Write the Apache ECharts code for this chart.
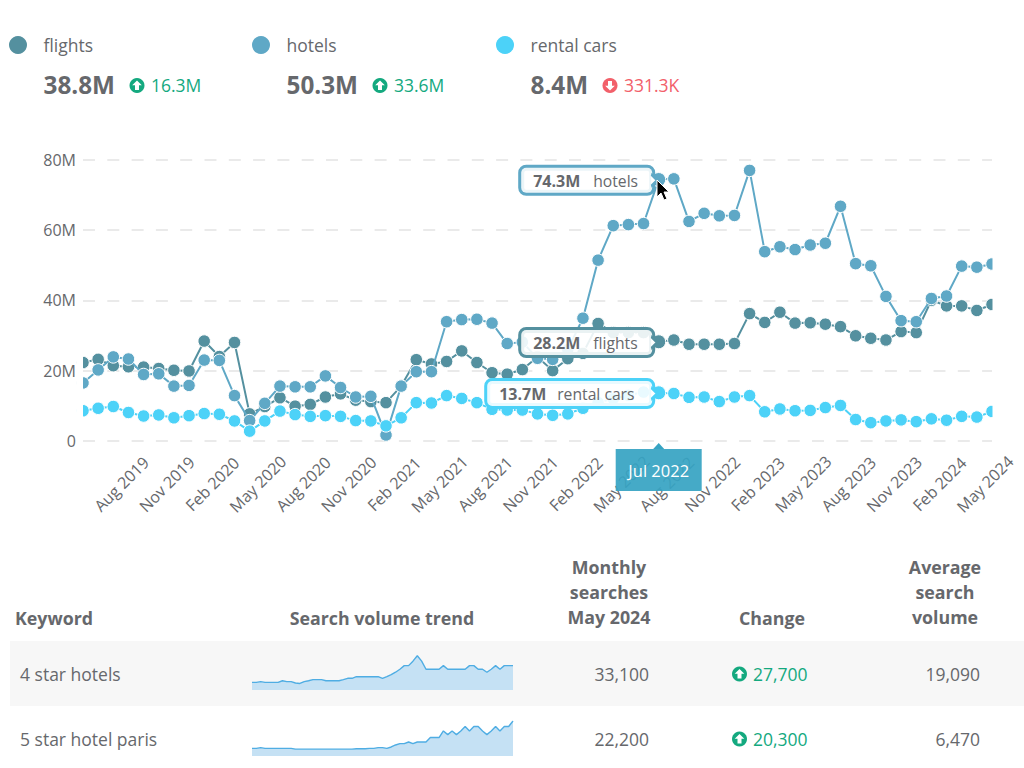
<!DOCTYPE html>
<html>
<head>
<meta charset="utf-8">
<style>html,body{margin:0;padding:0;background:#fff}#c{width:1024px;height:768px}</style>
<script src="https://cdn.jsdelivr.net/npm/echarts@6/dist/echarts.min.js"></script>
</head>
<body>
<div id="c"></div>
<script>
const months = ['May 2019','Jun 2019','Jul 2019','Aug 2019','Sep 2019','Oct 2019','Nov 2019','Dec 2019','Jan 2020','Feb 2020','Mar 2020','Apr 2020','May 2020','Jun 2020','Jul 2020','Aug 2020','Sep 2020','Oct 2020','Nov 2020','Dec 2020','Jan 2021','Feb 2021','Mar 2021','Apr 2021','May 2021','Jun 2021','Jul 2021','Aug 2021','Sep 2021','Oct 2021','Nov 2021','Dec 2021','Jan 2022','Feb 2022','Mar 2022','Apr 2022','May 2022','Jun 2022','Jul 2022','Aug 2022','Sep 2022','Oct 2022','Nov 2022','Dec 2022','Jan 2023','Feb 2023','Mar 2023','Apr 2023','May 2023','Jun 2023','Jul 2023','Aug 2023','Sep 2023','Oct 2023','Nov 2023','Dec 2023','Jan 2024','Feb 2024','Mar 2024','Apr 2024','May 2024'];
const flights = [22.3,23.2,21.4,21.1,21.0,20.6,20.1,19.9,28.4,24.0,28.0,7.7,9.8,12.3,9.9,10.4,12.5,13.4,11.6,11.2,10.9,15.6,23.1,21.9,22.6,25.6,22.3,19.4,19.0,20.3,23.9,20.0,23.4,24.9,33.4,30.8,30.8,30.8,28.2,28.7,27.5,27.5,27.5,27.7,36.2,33.7,36.6,33.5,33.6,33.2,32.5,29.9,29.2,28.7,31.1,30.8,40.0,38.4,38.4,37.1,38.8];
const hotels = [16.5,20.2,23.9,23.3,18.9,19.1,15.6,15.8,23.0,22.9,12.9,5.8,10.7,15.6,15.4,15.4,18.5,15.2,12.5,12.7,1.7,15.6,19.7,19.7,33.9,34.5,34.6,33.5,27.7,28.1,23.5,23.2,26.0,34.9,51.4,61.2,61.5,61.8,74.3,74.5,62.4,64.7,64.0,64.1,76.9,53.8,55.2,54.4,55.7,56.2,66.7,50.4,49.8,41.1,34.2,33.9,40.5,41.2,49.7,49.4,50.3];
const rentalCars = [8.6,9.3,9.8,8.1,7.1,7.4,6.6,7.2,7.8,7.6,5.7,2.8,5.7,8.5,7.5,7.0,7.2,7.0,5.8,5.7,4.3,6.6,10.9,10.8,12.9,12.1,10.9,9.0,8.8,8.8,7.7,7.3,7.7,9.3,10.9,12.0,13.0,13.9,13.7,13.5,12.4,12.5,11.2,12.5,12.9,8.3,9.1,8.6,8.7,9.5,10.1,6.1,5.2,5.7,6.0,5.5,6.3,5.9,7.0,6.8,8.4];
const trend4StarHotels = [5400,5400,6600,5400,5400,5400,5400,8100,6600,6600,4400,3600,6600,8100,9900,9900,9900,8100,8100,8100,8100,9900,12100,12100,14800,14800,14800,14800,14800,14800,12100,14800,18100,22200,27100,33100,33100,40500,49500,40500,27100,27100,27100,27100,33100,27100,27100,27100,27100,27100,33100,33100,27100,27100,22200,27100,33100,27100,33100,33100,33100];
const trend5StarParis = [1900,1900,2400,1900,1900,1900,1900,1900,1900,1900,1300,1300,1300,1300,1300,1300,1300,1300,1300,1300,1300,1300,1300,1300,1600,1600,1600,1900,1900,2400,2400,1900,2900,4400,5400,5400,6600,5400,6600,6600,6600,9900,9900,9900,14800,12100,14800,12100,14800,18100,14800,18100,18100,14800,12100,14800,18100,14800,18100,18100,22200];
const seriesNames = ['flights','hotels','rental cars'];
const seriesColors = ['#54909f','#5fa8c6','#4cd2f8'];
const summaryValues = ['38.8M','50.3M','8.4M'];
const summaryChanges = ['16.3M','33.6M','331.3K'];
const summaryUp = [true,true,false];
const calloutMonth = 'Jul 2022';
const calloutIndex = months.indexOf(calloutMonth);
const tableHeaders = ['Keyword','Search volume trend','Monthly\nsearches\nMay 2024','Change','Average\nsearch\nvolume'];
const keywords = ['4 star hotels','5 star hotel paris'];
const monthly = ['33,100','22,200'];
const changes = ['27,700','20,300'];
const averages = ['19,090','6,470'];

const FONT = '"Open Sans"';
const GREY = '#66686c', GREEN = '#14a97f', RED = '#f2606a';
const txt = (text,x,y,size,fill,opt={}) => ({type:'text',z:20,silent:true,style:{text,x,y,fill,
  font:(opt.bold?'700 ':'400 ')+size+'px '+FONT,textAlign:opt.align||'left',textVerticalAlign:'middle'}});
const icon = (cx,cy,color,up) => {
  const s = up?1:-1;
  return [
    {type:'circle',z:20,silent:true,shape:{cx,cy,r:7.5},style:{fill:color}},
    {type:'polygon',z:21,silent:true,shape:{points:[[cx,cy-5*s],[cx+4.8,cy-0.2*s],[cx+2,cy-0.2*s],[cx+2,cy+4.5*s],[cx-2,cy+4.5*s],[cx-2,cy-0.2*s],[cx-4.8,cy-0.2*s]]},style:{fill:'#fff'}}
  ];
};

const graphics = [];
[18,261,505].forEach((x,i)=>{
  const tx = x+25.5;
  graphics.push({type:'circle',z:20,silent:true,shape:{cx:x,cy:45,r:9},style:{fill:seriesColors[i]}});
  graphics.push(txt(seriesNames[i],tx,45,17.5,GREY));
  graphics.push(txt(summaryValues[i],tx,84.5,24.3,GREY,{bold:true}));
  const ix = [137,380,610][i];
  graphics.push(...icon(ix,85.5,summaryUp[i]?GREEN:RED,summaryUp[i]));
  graphics.push(txt(summaryChanges[i],ix+14,85,17.5,summaryUp[i]?GREEN:RED));
});
// edge masks that cut the first and last markers in half
graphics.push({type:'rect',z:10,silent:true,shape:{x:76.5,y:150,width:6.5,height:296},style:{fill:'#fff'}});
graphics.push({type:'rect',z:10,silent:true,shape:{x:992.5,y:150,width:10,height:296},style:{fill:'#fff'}});
// mouse pointer
graphics.push({type:'polygon',z:30,silent:true,shape:{points:[[657,180],[657,197],[661,193],[664,200],[667,199],[664,192],[669,192]]},style:{fill:'#000',stroke:'#fff',lineWidth:1}});
// table
graphics.push({type:'rect',z:-10,silent:true,shape:{x:10,y:641,width:1014,height:65},style:{fill:'#f7f7f7'}});
graphics.push(txt(tableHeaders[0],15,617.5,17.8,GREY,{bold:true}));
graphics.push(txt(tableHeaders[1],382,617.5,17.8,GREY,{bold:true,align:'center'}));
tableHeaders[2].split('\n').forEach((l,i)=>graphics.push(txt(l,609,567+i*25,17.8,GREY,{bold:true,align:'center'})));
graphics.push(txt(tableHeaders[3],772,617.5,17.8,GREY,{bold:true,align:'center'}));
tableHeaders[4].split('\n').forEach((l,i)=>graphics.push(txt(l,945,567+i*25,17.8,GREY,{bold:true,align:'center'})));
[673.5,738.5].forEach((y,i)=>{
  graphics.push(txt(keywords[i],20,y,17.5,GREY));
  graphics.push(txt(monthly[i],649,y,17.5,GREY,{align:'right'}));
  graphics.push(...icon(739.5,y+0.5,GREEN,true));
  graphics.push(txt(changes[i],753,y,17.5,GREEN));
  graphics.push(txt(averages[i],980,y,17.5,GREY,{align:'right'}));
});

const boxLabel = (value,name,color,nameGapWidth,boxWidth) => ({
  show:true,position:'left',distance:6,
  formatter:'{v|'+value+'M}{n|'+name+'}',
  width:boxWidth,height:22,padding:[2,12,1,12],
  backgroundColor:'rgba(255,255,255,0.88)',borderColor:color,borderWidth:3,borderRadius:5,
  rich:{
    v:{fontFamily:FONT,fontSize:16,fontWeight:700,color:GREY,width:nameGapWidth,align:'left',lineHeight:22},
    n:{fontFamily:FONT,fontSize:15.7,fontWeight:400,color:GREY,align:'left',lineHeight:22}
  }
});
const values = [flights,hotels,rentalCars];
const mainSeries = values.map((data,i)=>({
  type:'line',name:seriesNames[i],data,xAxisIndex:0,yAxisIndex:0,
  showAllSymbol:true,symbol:'circle',clip:false,silent:true,
  symbolSize:(v,p)=>p.dataIndex===calloutIndex?14:12.5,
  lineStyle:{color:seriesColors[i],width:2},
  itemStyle:{color:seriesColors[i],borderColor:'#fff',borderWidth:1},
  z:2+i,
  markPoint:{silent:true,z:5,animation:false,data:[{
    coord:[calloutMonth,data[calloutIndex]],symbol:'circle',symbolSize:1,symbolOffset:[0,0.7],
    itemStyle:{color:'rgba(0,0,0,0)'},
    label:boxLabel(data[calloutIndex].toFixed(1),seriesNames[i],seriesColors[i],i===2?58:60,i===2?141:107)
  }]}
}));
const notchItem = (i) => ({
  coord:[calloutMonth,values[i][calloutIndex]],
  symbol:'path://M0,0 L8,8 L0,16',symbolSize:[6,12],symbolKeepAspect:false,symbolOffset:[-4.5,0.7],
  itemStyle:{color:'#fff',borderColor:seriesColors[i],borderWidth:2.5},label:{show:false}
});
const helper = {
  type:'line',data:[],xAxisIndex:0,yAxisIndex:0,silent:true,symbol:'none',lineStyle:{opacity:0},
  markPoint:{silent:true,z:6,animation:false,data:[
    notchItem(0),notchItem(1),notchItem(2),
    {coord:[calloutMonth,0],symbol:'triangle',symbolSize:[11,6],symbolOffset:[0,5],
     itemStyle:{color:'#37a4c3'},
     label:{show:true,position:'bottom',distance:0,formatter:calloutMonth,color:'#fff',
       fontFamily:FONT,fontSize:16.5,width:86,height:42,lineHeight:42,align:'center',
       backgroundColor:'rgba(55,164,195,0.93)'}}
  ]}
};
const spark = (data,gi) => ({
  type:'line',data,xAxisIndex:gi,yAxisIndex:gi,symbol:'none',silent:true,
  lineStyle:{color:'#4fade3',width:1.4},areaStyle:{color:'#c5e1f4',opacity:1,origin:'start'}
});

const option = {
  animation:false,
  textStyle:{fontFamily:FONT},
  graphic:{elements:graphics},
  grid:[
    {left:83,right:32,top:159.5,height:281.5},
    {left:252,right:511,top:655.7,height:34.3},
    {left:252,right:511,top:721,height:35}
  ],
  xAxis:[
    {type:'category',gridIndex:0,data:months,boundaryGap:false,
     axisLine:{show:false},axisTick:{show:false},
     axisLabel:{rotate:45,fontSize:16,color:GREY,fontFamily:FONT,margin:36,
       align:'center',verticalAlign:'middle',padding:[0,20,0,0],
       interval:(i)=>i>0&&i%3===0}},
    {type:'category',gridIndex:1,data:months,boundaryGap:false,show:false},
    {type:'category',gridIndex:2,data:months,boundaryGap:false,show:false}
  ],
  yAxis:[
    {type:'value',gridIndex:0,min:0,max:80,interval:20,
     axisLine:{show:false},axisTick:{show:false},
     splitLine:{lineStyle:{color:'#e3e3e3',width:1.6,type:[12,12.3]}},
     axisLabel:{fontSize:16,color:GREY,fontFamily:FONT,margin:7,formatter:(v)=>v?v+'M':'0'}},
    {type:'value',gridIndex:1,min:-7200,max:49500,show:false},
    {type:'value',gridIndex:2,min:-3800,max:22200,show:false}
  ],
  series:[...mainSeries,helper,spark(trend4StarHotels,1),spark(trend5StarParis,2)]
};
const chart = echarts.init(document.getElementById('c'),null,{renderer:'svg'});
chart.setOption(option);
</script>
</body>
</html>
